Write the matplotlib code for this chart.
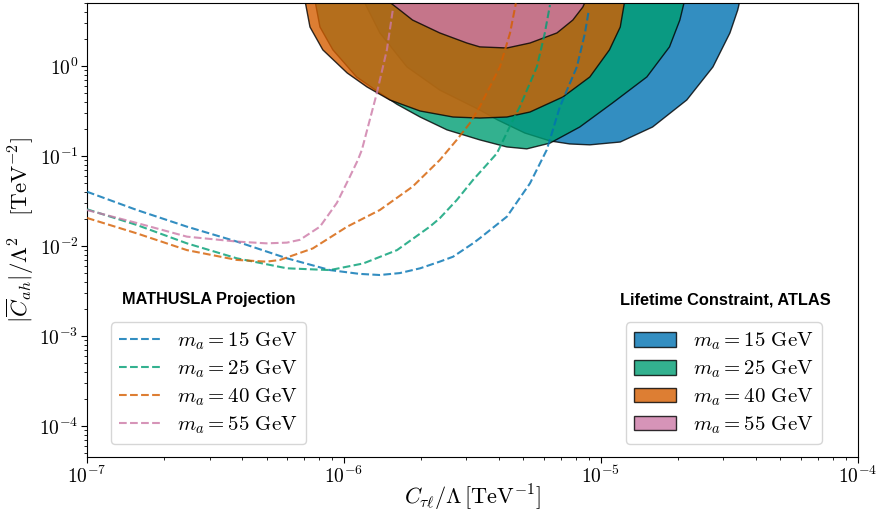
import numpy as np
import matplotlib
matplotlib.use("Agg")
import matplotlib.pyplot as plt
from matplotlib.ticker import FuncFormatter

plt.rcParams['mathtext.fontset'] = 'cm'
plt.rcParams['font.family'] = 'DejaVu Serif'

# colours (Okabe-Ito)
colors = ['#0072B2', '#009E73', '#D55E00', '#CC79A7']
masses = [15, 25, 40, 55]

# MATHUSLA projection curves
x_m15 = [1.0e-7, 1.565e-7, 2.45e-7, 3.83e-7, 6.0e-7, 8.83e-7, 1.15e-6, 1.38e-6, 1.65e-6, 1.98e-6, 2.36e-6,
         2.66e-6, 3.18e-6, 3.38e-6, 4.31e-6, 5.30e-6, 6.16e-6, 6.93e-6, 8.07e-6, 8.67e-6, 8.98e-6]
y_m15 = [0.0401, 0.0251, 0.0164, 0.0112, 0.0073, 0.0054, 0.0049, 0.00476, 0.0050, 0.00565, 0.0067,
         0.0076, 0.0107, 0.0122, 0.0212, 0.0497, 0.117, 0.353, 0.98, 2.31, 4.19]

x_m25 = [1.0e-7, 1.565e-7, 2.45e-7, 3.83e-7, 6.0e-7, 8.83e-7, 1.19e-6, 1.61e-6, 2.16e-6,
         2.36e-6, 2.75e-6, 3.18e-6, 3.94e-6, 4.55e-6, 4.84e-6, 5.64e-6, 6.05e-6, 6.34e-6]
y_m25 = [0.0256, 0.0171, 0.0107, 0.0073, 0.00565, 0.0054, 0.0064, 0.0090, 0.0164,
         0.0203, 0.0324, 0.0541, 0.107, 0.251, 0.353, 0.98, 2.31, 4.76]

x_m40 = [1.0e-7, 1.565e-7, 2.45e-7, 3.83e-7, 5.0e-7, 5.64e-7, 7.57e-7, 1.03e-6, 1.38e-6,
         1.85e-6, 2.36e-6, 2.75e-6, 3.09e-6, 3.38e-6, 4.05e-6, 4.43e-6, 4.67e-6]
y_m40 = [0.0205, 0.0138, 0.0090, 0.0070, 0.0067, 0.0070, 0.0094, 0.0164, 0.0251,
         0.0456, 0.090, 0.151, 0.231, 0.353, 0.98, 2.31, 4.97]

x_m55 = [1.0e-7, 1.565e-7, 2.45e-7, 3.83e-7, 5.0e-7, 6.0e-7, 6.74e-7, 8.07e-7, 9.39e-7,
         1.055e-6, 1.133e-6, 1.175e-6, 1.343e-6, 1.47e-6, 1.55e-6]
y_m55 = [0.0251, 0.0180, 0.0127, 0.0112, 0.0107, 0.0109, 0.0117, 0.0164, 0.0301,
         0.0589, 0.090, 0.117, 0.497, 1.51, 4.19]

# ATLAS lifetime constraint regions (outlines, open to the top)
rx_m15 = [1.19e-6, 1.38e-6, 1.76e-6, 2.36e-6, 3.38e-6, 3.97e-6, 5.06e-6, 6.34e-6, 7.57e-6,
          9.06e-6, 1.19e-5, 1.59e-5, 2.16e-5, 2.73e-5, 3.18e-5, 3.41e-5, 3.48e-5]
ry_m15 = [5.4, 2.33, 0.975, 0.54, 0.324, 0.251, 0.18, 0.147, 0.136,
          0.133, 0.143, 0.21, 0.419, 0.975, 2.33, 4.19, 5.4]

rx_m25 = [7.71e-7, 8.07e-7, 9.06e-7, 1.12e-6, 1.34e-6, 1.61e-6, 1.98e-6, 2.52e-6, 3.38e-6,
          4.31e-6, 5.15e-6, 6.34e-6, 8.28e-6, 1.11e-5, 1.51e-5, 1.85e-5, 2.03e-5, 2.12e-5]
ry_m25 = [5.4, 2.71, 1.51, 0.755, 0.53, 0.375, 0.271, 0.195, 0.151,
          0.126, 0.12, 0.139, 0.21, 0.388, 0.755, 1.63, 3.24, 5.4]

rx_m40 = [7.05e-7, 7.38e-7, 8.28e-7, 1.03e-6, 1.23e-6, 1.51e-6, 1.98e-6, 2.66e-6, 3.38e-6,
          4.31e-6, 5.30e-6, 7.12e-6, 9.06e-6, 1.08e-5, 1.19e-5, 1.24e-5]
ry_m40 = [5.4, 2.71, 1.51, 0.836, 0.585, 0.419, 0.316, 0.271, 0.264,
          0.271, 0.308, 0.453, 0.755, 1.51, 2.71, 5.4]

rx_m55 = [1.47e-6, 1.65e-6, 1.85e-6, 2.36e-6, 3.01e-6, 3.38e-6, 4.31e-6, 5.30e-6, 6.75e-6,
          7.78e-6, 8.51e-6, 8.75e-6]
ry_m55 = [5.4, 4.19, 3.24, 2.33, 1.80, 1.63, 1.585, 1.80, 2.33,
          3.24, 4.52, 5.4]

curves = [(x_m15, y_m15), (x_m25, y_m25), (x_m40, y_m40), (x_m55, y_m55)]
regions = [(rx_m15, ry_m15), (rx_m25, ry_m25), (rx_m40, ry_m40), (rx_m55, ry_m55)]

fig = plt.figure(figsize=(8.78, 5.12), dpi=100)
ax = fig.add_axes([0.099, 0.107, 0.878, 0.887])

fill_handles = []
for (rx, ry), c, m in zip(regions, colors, masses):
    h = ax.fill(rx, ry, facecolor=c, edgecolor='k', alpha=0.8, lw=1.0,
                label=r'$m_a = %d\ \mathrm{GeV}$' % m, zorder=2)[0]
    fill_handles.append(h)

line_handles = []
for (cx, cy), c, m in zip(curves, colors, masses):
    h, = ax.plot(cx, cy, ls='--', color=c, lw=1.5, alpha=0.8,
                 label=r'$m_a = %d\ \mathrm{GeV}$' % m, zorder=3)
    line_handles.append(h)

ax.set_xscale('log')
ax.set_yscale('log')
ax.set_xlim(1e-7, 1e-4)
ax.set_ylim(4.5e-5, 5.0)

fmt = FuncFormatter(lambda v, _: r'$10^{%d}$' % int(round(np.log10(v))))
ax.xaxis.set_major_formatter(fmt)
ax.yaxis.set_major_formatter(fmt)
ax.tick_params(axis='both', which='major', labelsize=14, length=4, width=0.8, pad=2)
ax.tick_params(axis='both', which='minor', length=2.5, width=0.6)

ax.set_xlabel(r'$C_{\tau\ell}/\Lambda\,[\mathrm{TeV}^{-1}]$', fontsize=16, labelpad=-3)
ax.set_ylabel(r'$|\overline{C}_{ah}|/\Lambda^2\ \ \ [\mathrm{TeV}^{-2}]$', fontsize=16.5, labelpad=2)

leg1 = ax.legend(handles=line_handles, loc='lower left', bbox_to_anchor=(0.031, 0.029),
                 borderaxespad=0, fontsize=15, labelspacing=0.3)
ax.add_artist(leg1)
leg2 = ax.legend(handles=fill_handles, loc='lower right', bbox_to_anchor=(0.953, 0.029),
                 borderaxespad=0, fontsize=15, labelspacing=0.3)

ax.text(0.158, 0.347, 'MATHUSLA Projection', transform=ax.transAxes, ha='center', va='center',
        fontsize=11.7, fontweight='bold', family='Liberation Sans')
ax.text(0.828, 0.347, 'Lifetime Constraint, ATLAS', transform=ax.transAxes, ha='center', va='center',
        fontsize=11.8, fontweight='bold', family='Liberation Sans')

fig.savefig('out.png', dpi=100)
